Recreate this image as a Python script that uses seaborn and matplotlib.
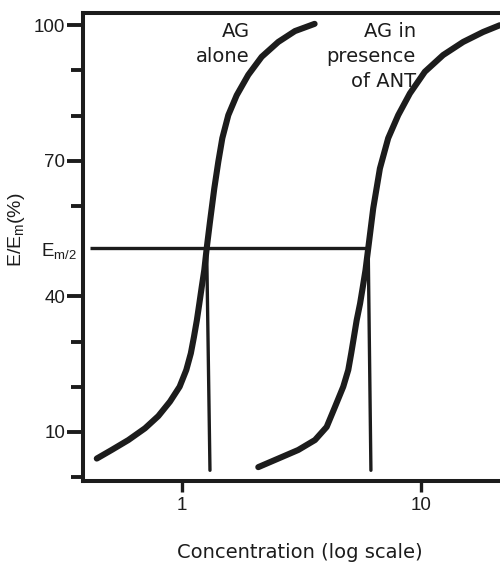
import numpy as np
import pandas as pd
import matplotlib
matplotlib.use("Agg")
import matplotlib.pyplot as plt
from matplotlib.ticker import FixedLocator, NullLocator
import seaborn as sns

# ---- data ----
alone_conc = [0.441, 0.509, 0.598, 0.702, 0.798, 0.893, 0.980, 1.045, 1.092, 1.125,
              1.157, 1.185, 1.213, 1.243, 1.272, 1.313, 1.369, 1.423, 1.479, 1.567,
              1.699, 1.899, 2.161, 2.537, 2.979, 3.60]
alone_eff = [4.1, 6.0, 8.2, 10.8, 13.5, 16.7, 20.0, 23.7, 27.4, 31.0,
             34.7, 38.4, 42.1, 45.8, 50.6, 56.5, 63.9, 69.8, 75.0, 80.1,
             84.5, 89.0, 93.0, 96.3, 98.7, 100.3]

ant_conc = [2.092, 2.537, 3.075, 3.613, 4.044, 4.379, 4.745, 4.980, 5.124, 5.259,
            5.400, 5.580, 5.730, 5.880, 6.036, 6.336, 6.756, 7.318, 8.060, 9.020,
            10.42, 12.43, 15.08, 18.28, 21.47]
ant_eff = [2.2, 4.1, 6.0, 8.2, 11.1, 15.5, 20.0, 23.7, 27.4, 31.0,
           34.7, 38.4, 42.1, 45.8, 50.6, 59.5, 68.3, 75.0, 80.1, 84.9,
           89.7, 93.4, 96.3, 98.5, 100.0]

half_level = 50.6
hline_conc = [0.413, 6.036]
vline_alone_conc = [1.272, 1.313]
vline_ant_conc = [6.036, 6.195]
vline_eff = [half_level, 1.5]

ytick_major = [10, 40, half_level, 70, 100]
ytick_labels = ["10", "40", r"E$_{\mathregular{m/2}}$", "70", "100"]
ytick_minor = [0, 20, 30, 60, 80, 90]
xtick_vals = [1, 10]
xtick_labels = ["1", "10"]

label_alone = "AG\nalone"
label_ant = "AG in\npresence\nof ANT"

# ---- styling ----
sns.set_theme(style="white")
plt.rcParams["font.family"] = ["Liberation Sans", "DejaVu Sans"]
plt.rcParams["mathtext.default"] = "regular"
ink = "#1c1c1c"
wide_font = ["DejaVu Sans"]

df = pd.concat([
    pd.DataFrame({"conc": alone_conc, "eff": alone_eff, "series": "alone"}),
    pd.DataFrame({"conc": ant_conc, "eff": ant_eff, "series": "ant"}),
], ignore_index=True)

fig = plt.figure(figsize=(5.0, 5.63), dpi=100)
ax = fig.add_axes([0.1654, 0.1462, 0.8346, 0.8307])

sns.lineplot(data=df, x="conc", y="eff", units="series", estimator=None, sort=False,
             color=ink, lw=4.4, solid_capstyle="round", solid_joinstyle="round",
             ax=ax, legend=False)

ax.plot(hline_conc, [half_level, half_level], color=ink, lw=2.4, solid_capstyle="butt")
ax.plot(vline_alone_conc, vline_eff, color=ink, lw=2.4, solid_capstyle="round")
ax.plot(vline_ant_conc, vline_eff, color=ink, lw=2.4, solid_capstyle="round")

ax.set_xscale("log")
ax.set_xlim(0.385, 21.5)
ax.set_ylim(-0.8, 102.7)

ax.yaxis.set_major_locator(FixedLocator(ytick_major))
ax.set_yticklabels(ytick_labels)
ax.yaxis.set_minor_locator(FixedLocator(ytick_minor))
ax.set_xticks(xtick_vals)
ax.set_xticklabels(xtick_labels)
ax.xaxis.set_minor_locator(NullLocator())

ax.tick_params(axis="y", which="major", direction="out", length=11.5, width=2.8,
               color=ink, labelsize=13.5, labelcolor=ink, pad=1.0, left=True)
ax.tick_params(axis="y", which="minor", direction="out", length=8.6, width=2.8,
               color=ink, left=True)
ax.tick_params(axis="x", which="major", direction="out", length=8, width=2.4,
               color=ink, labelsize=13.5, labelcolor=ink, pad=4, bottom=True)
t_half = ax.yaxis.get_major_ticks()[2]
t_half.set_pad(-7.0)
t_half.tick1line.set_markersize(1.5)

for side in ["left", "top", "bottom"]:
    ax.spines[side].set_visible(True)
    ax.spines[side].set_linewidth(2.9)
    ax.spines[side].set_color(ink)
ax.spines["right"].set_visible(False)

ax.set_ylabel(r"E/E$_{\mathregular{m}}$(%)", fontsize=14, color=ink)
ax.yaxis.set_label_coords(-0.133, 0.536)
ax.set_xlabel("Concentration (log scale)", fontsize=14, color=ink, va="top",
              family=wide_font)
ax.xaxis.set_label_coords(0.521, -0.134)

ax.text(1.93, 100.8, label_alone, ha="right", va="top", fontsize=14,
        color=ink, linespacing=1.4, family=wide_font)
ax.text(9.56, 100.8, label_ant, ha="right", va="top", fontsize=14,
        color=ink, linespacing=1.4, family=wide_font)

fig.savefig("out.png", dpi=100)
